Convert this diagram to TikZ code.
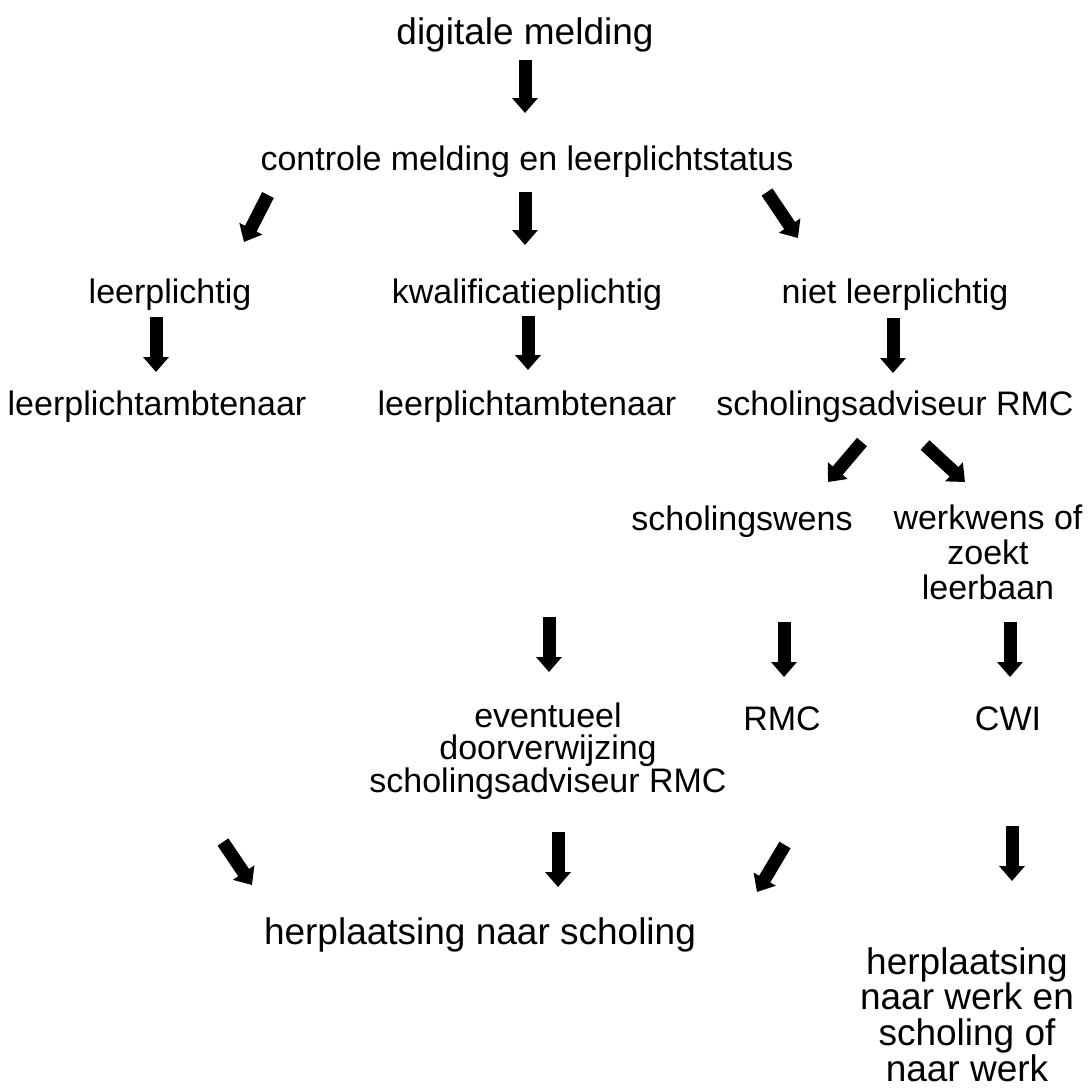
\documentclass[tikz,border=0pt]{standalone}
\usepackage{fontspec}
\setmainfont{Liberation Sans}
\usetikzlibrary{arrows.meta}
\begin{document}
\begin{tikzpicture}[x=1pt,y=-1pt,
  lbl/.style={inner sep=0pt, align=center, font=\fontsize{34}{35}\selectfont},
  biglbl/.style={inner sep=0pt, align=center, font=\fontsize{37}{35.7}\selectfont},
  blockarrow/.style={line width=13pt, -{Triangle[width=25pt,length=15pt]}}]
\useasboundingbox (0,0) rectangle (1090,1088);
\node[biglbl, anchor=base] (dm) at (525,44) {digitale melding};
\node[lbl, anchor=base] (cm) at (527,170) {controle melding en leerplichtstatus};
\node[lbl, anchor=base] (lp) at (170,303) {leerplichtig};
\node[lbl, anchor=base] (kw) at (527,303) {kwalificatieplichtig};
\node[lbl, anchor=base] (nl) at (895,303) {niet leerplichtig};
\node[lbl, anchor=base] (la1) at (157,415) {leerplichtambtenaar};
\node[lbl, anchor=base] (la2) at (527,415) {leerplichtambtenaar};
\node[lbl, anchor=base] (sa) at (895,415) {scholingsadviseur RMC};
\node[lbl, anchor=base] (sw) at (742,530) {scholingswens};
\node[lbl, anchor=north] (ww) at (988,505) {werkwens of\\zoekt\\leerbaan};
\node[lbl, anchor=north, font=\fontsize{34}{31.5}\selectfont] (ev) at (548,703) {eventueel\\doorverwijzing\\scholingsadviseur RMC};
\node[lbl, anchor=base] (rmc) at (782,730) {RMC};
\node[lbl, anchor=base] (cwi) at (1008,730) {CWI};
\node[biglbl, anchor=base] (hs) at (480,944) {herplaatsing naar scholing};
\node[biglbl, anchor=north] (hw) at (967,947) {herplaatsing\\naar werk en\\scholing of\\naar werk};
% arrow coordinates
\coordinate (a1s) at (525,60);  \coordinate (a1e) at (525,113);
\coordinate (a2s) at (268,195); \coordinate (a2e) at (244,242);
\coordinate (a3s) at (525,192); \coordinate (a3e) at (525,245);
\coordinate (a4s) at (767,192); \coordinate (a4e) at (798,238);
\coordinate (a5s) at (156,317); \coordinate (a5e) at (156,372);
\coordinate (a6s) at (528,316); \coordinate (a6e) at (528,370);
\coordinate (a7s) at (893,318); \coordinate (a7e) at (893,373);
\coordinate (a8s) at (862,442); \coordinate (a8e) at (828,482);
\coordinate (a9s) at (925,445); \coordinate (a9e) at (965,482);
\coordinate (a10s) at (549,617); \coordinate (a10e) at (549,672);
\coordinate (a11s) at (784,622); \coordinate (a11e) at (784,677);
\coordinate (a12s) at (1010,622); \coordinate (a12e) at (1010,677);
\coordinate (a13s) at (223,842); \coordinate (a13e) at (252,885);
\coordinate (a14s) at (558,832); \coordinate (a14e) at (558,887);
\coordinate (a15s) at (785,845); \coordinate (a15e) at (757,892);
\coordinate (a16s) at (1012,826); \coordinate (a16e) at (1012,881);
\foreach \i in {1,...,16} \draw[blockarrow] (a\i s) -- (a\i e);
\end{tikzpicture}
\end{document}
